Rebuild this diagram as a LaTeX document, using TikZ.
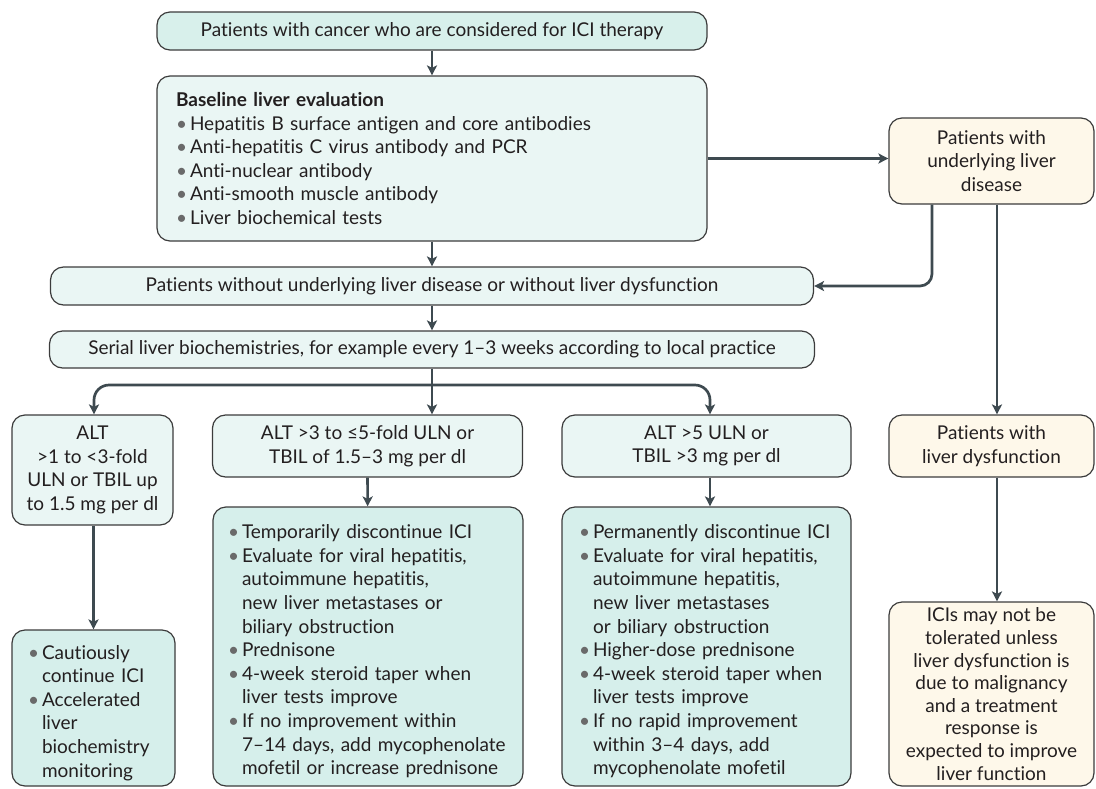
\documentclass[tikz,border=0pt]{standalone}
\usepackage{fontspec}
\setmainfont{Lato}[Ligatures={TeX,NoCommon}]
\usetikzlibrary{arrows.meta}
\definecolor{linkgray}{HTML}{3E4A50}
\definecolor{edgegray}{HTML}{3C3C3C}
\definecolor{textdark}{HTML}{231F20}
\definecolor{dotgray}{HTML}{6A6A6A}
\definecolor{topfill}{HTML}{D8F0EB}
\definecolor{palefill}{HTML}{EAF6F4}
\definecolor{deepfill}{HTML}{D6EFEB}
\definecolor{creamfill}{HTML}{FEF8EA}
\tikzset{
  box/.style={draw=edgegray, line width=1.2pt, rounded corners=13pt, inner sep=0pt,
    text=textdark, font=\fontsize{19}{23.6}\selectfont},
  pale/.style={box, fill=palefill},
  deep/.style={box, fill=deepfill},
  cream/.style={box, fill=creamfill, align=center},
  link/.style={draw=linkgray, line width=2.7pt, -{Stealth[length=10pt,width=10pt,inset=2.5pt]}},
}
\newcommand{\itm}{\par\hyphenpenalty=10000\hangindent=14pt\hangafter=1\noindent\makebox[14pt][l]{\textcolor{dotgray}{\textbullet}}}
\begin{document}
\begin{tikzpicture}[x=1pt,y=-1pt]
\useasboundingbox (0,0) rectangle (1096,788);
% main column
\node[box, fill=topfill, minimum width=550, minimum height=38] (top) at (432,31)
  {Patients with cancer who are considered for ICI therapy};
\node[pale, minimum width=550, minimum height=165, text width=512, align=left] (base) at (432,158.5)
  {\textbf{Baseline liver evaluation}
   \itm Hepatitis B surface antigen and core antibodies
   \itm Anti-hepatitis C virus antibody and PCR
   \itm Anti-nuclear antibody
   \itm Anti-smooth muscle antibody
   \itm Liver biochemical tests\par};
\node[cream, minimum width=205, minimum height=86] (under) at (991.5,161)
  {Patients with\\underlying liver\\disease};
\node[pale, minimum width=763, minimum height=38] (without) at (432,286)
  {Patients without underlying liver disease or without liver dysfunction};
\node[pale, minimum width=765, minimum height=37] (serial) at (432,349.5)
  {Serial liver biochemistries, for example every 1--3 weeks according to local practice};
% grades
\node[pale, minimum width=161, minimum height=110, align=center] (alt1) at (92.5,470)
  {ALT\\>1 to <3-fold\\ULN or TBIL up\\to 1.5 mg per dl};
\node[pale, minimum width=310, minimum height=62, align=center] (alt2) at (367.5,446)
  {ALT >3 to ≤5-fold ULN or\\TBIL of 1.5--3 mg per dl};
\node[pale, minimum width=289, minimum height=62, align=center] (alt3) at (706.5,446)
  {ALT >5 ULN or\\TBIL >3 mg per dl};
\node[cream, minimum width=205, minimum height=62] (dysf) at (991.5,446)
  {Patients with\\liver dysfunction};
% management
\node[deep, minimum width=163, minimum height=156, text width=131, align=left] (care1) at (93.5,708)
  {\itm Cautiously\newline continue ICI
   \itm Accelerated\newline liver\newline biochemistry\newline monitoring\par};
\node[deep, minimum width=310, minimum height=279, text width=280, align=left] (care2) at (368,646.5)
  {\itm Temporarily discontinue ICI
   \itm Evaluate for viral hepatitis,\newline autoimmune hepatitis,\newline new liver metastases or\newline biliary obstruction
   \itm Prednisone
   \itm 4-week steroid taper when\newline liver tests improve
   \itm If no improvement within\newline 7--14 days, add mycophenolate\newline mofetil or increase prednisone\par};
\node[deep, minimum width=289, minimum height=279, text width=255, align=left] (care3) at (706.5,646.5)
  {\itm Permanently discontinue ICI
   \itm Evaluate for viral hepatitis,\newline autoimmune hepatitis,\newline new liver metastases\newline or biliary obstruction
   \itm Higher-dose prednisone
   \itm 4-week steroid taper when\newline liver tests improve
   \itm If no rapid improvement\newline within 3--4 days, add\newline mycophenolate mofetil\par};
\node[cream, minimum width=205, minimum height=184, font=\fontsize{19}{22.6}\selectfont] (ici) at (991.5,694)
  {ICIs may not be\\tolerated unless\\liver dysfunction is\\due to malignancy\\and a treatment\\response is\\expected to improve\\liver function};
% connectors
\coordinate (fork) at (432,385);
\draw[link] (top) -- (base);
\draw[link] (base) -- (without);
\draw[link] (base.east) -- (base.east -| under.west);
\draw[link, rounded corners=12pt] ([xshift=-59.5pt]under.south) |- (without.east);
\draw[link] ([xshift=5.5pt]under.south) -- ([xshift=5.5pt]dysf.north);
\draw[link] ([xshift=5.5pt]dysf.south) -- ([xshift=5.5pt]ici.north);
\draw[link] (without) -- (serial);
\draw[link] (serial.south) -- (serial.south |- alt2.north);
\draw[link, rounded corners=15pt] (fork) -| ([xshift=1.5pt]alt1.north);
\draw[link, rounded corners=15pt] (fork) -| ([xshift=3.5pt]alt3.north);
\draw[link] (alt1.south -| care1.north) -- (care1.north);
\draw[link] (alt2) -- (care2);
\draw[link] ([xshift=3.5pt]alt3.south) -- ([xshift=3.5pt]care3.north);
\end{tikzpicture}
\end{document}
